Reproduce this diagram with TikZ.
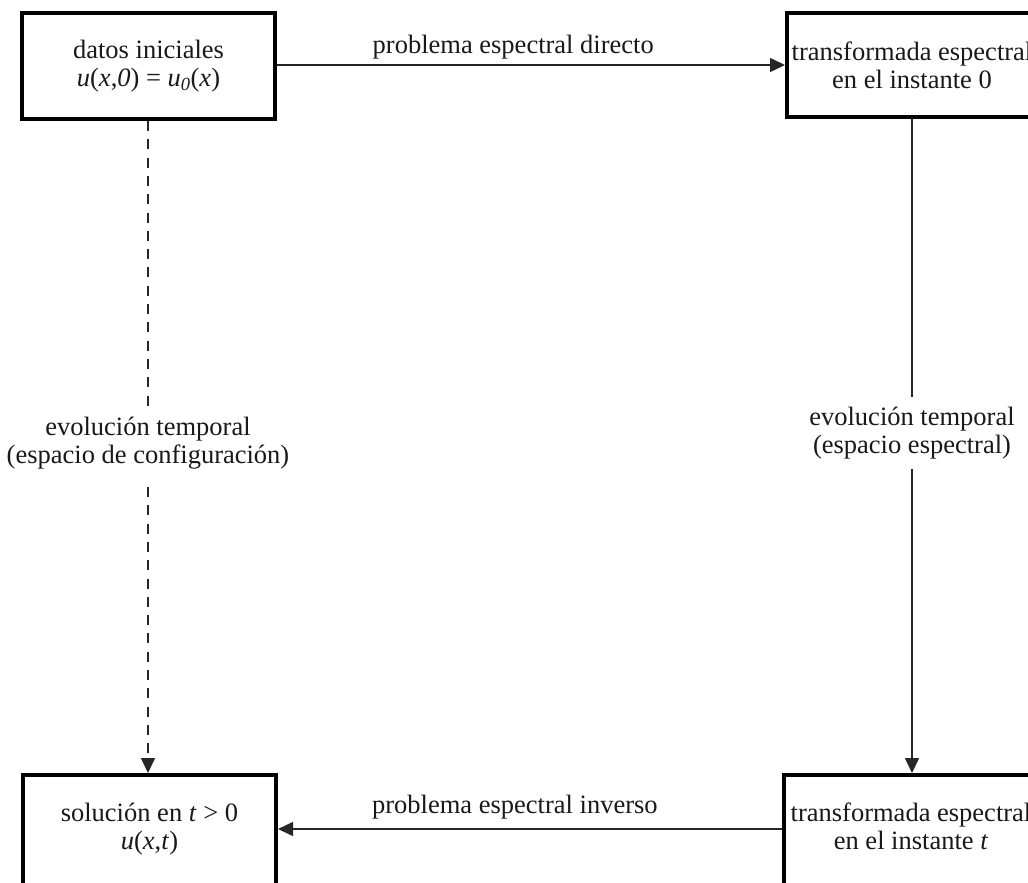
\documentclass[tikz,border=0pt]{standalone}
\usepackage{fontspec}
\setmainfont{Liberation Serif}
\usetikzlibrary{arrows.meta}
\tikzset{
  every node/.style={font=\fontsize{26.5}{28}\selectfont, text=black!90},
  box/.style={draw=black, line width=4pt, minimum height=106pt, align=center, inner sep=0pt},
  lowbox/.style={box, anchor=north, minimum height=124pt, text depth=22pt},
  conn/.style={line width=1.5pt, draw=black!85},
  tip/.style={-{Triangle[length=15pt,width=14pt]}},
  lbl/.style={fill=white, align=center, inner sep=10pt},
  dashline/.style={dash pattern=on 10pt off 8.3pt}
}
\begin{document}
\begin{tikzpicture}[x=1pt,y=-1pt]
\useasboundingbox (0,0) rectangle (1028,883);
\clip (0,0) rectangle (1028,883);
\node[box, minimum width=253pt] (tl) at (148.5,66) {datos iniciales\\\textit{u}(\textit{x},\textit{0}) = \textit{u}\textsubscript{\textit{0}}(\textit{x})};
\node[box, minimum width=250pt, minimum height=104pt] (tr) at (912,65) {transformada espectral\\en el instante 0};
\node[lowbox, minimum width=253pt] (bl) at (149.5,773) {solución en \textit{t} > 0\\\textit{u}(\textit{x},\textit{t})};
\node[lowbox, minimum width=254pt] (br) at (911,773) {transformada espectral\\en el instante \textit{t}};
\draw[conn, tip] (tl.east |- tr.west) -- node[pos=0.465, anchor=base, yshift=11pt] (l1) {problema espectral directo} (tr.west);
\draw[conn, tip] (br.west |- 0,829) -- node[pos=0.53, anchor=base, yshift=16pt] (l2) {problema espectral inverso} (bl.east |- 0,829);
\draw[conn, dashline, tip] (tl.south -| 148,0) -- node[lbl, pos=0.494] (l3) {evolución temporal\\(espacio de configuración)} (bl.north -| 148,0);
\draw[conn, tip] (tr.south -| 912,0) -- node[lbl, pos=0.48] (l4) {evolución temporal\\(espacio espectral)} (br.north -| 912,0);
\end{tikzpicture}
\end{document}
